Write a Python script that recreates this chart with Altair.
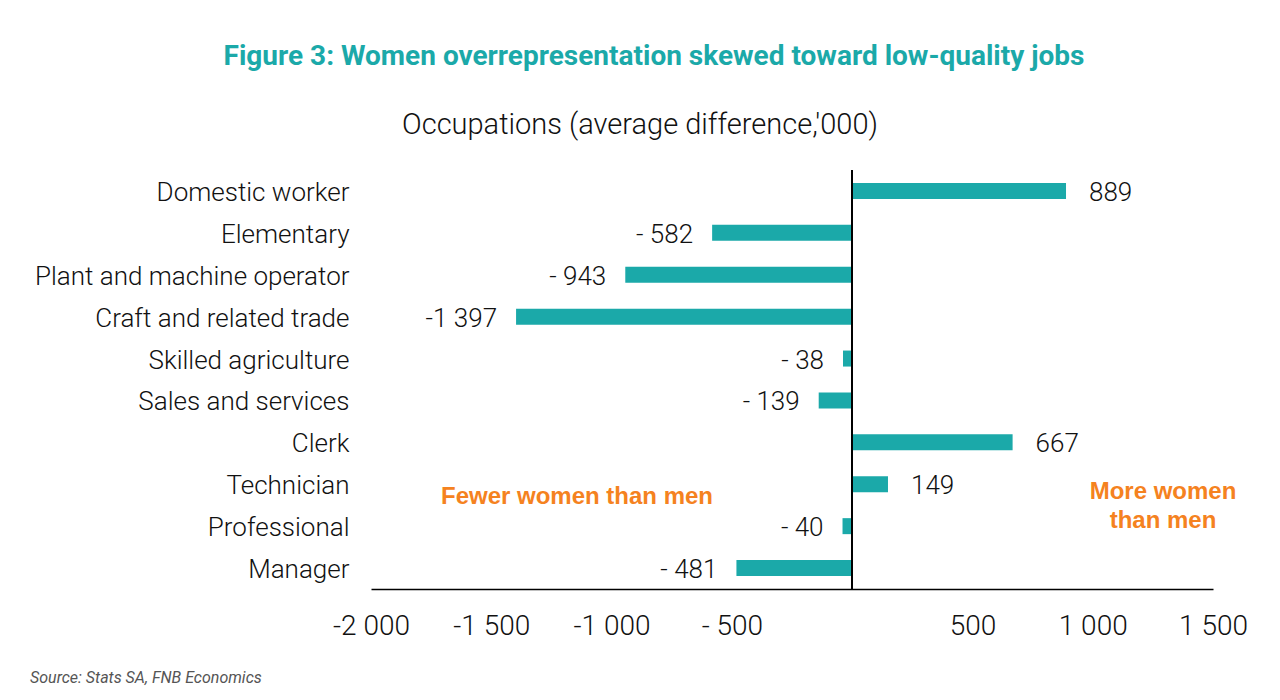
import altair as alt
import pandas as pd

categories = ["Domestic worker", "Elementary", "Plant and machine operator",
              "Craft and related trade", "Skilled agriculture", "Sales and services",
              "Clerk", "Technician", "Professional", "Manager"]
values = [889, -582, -943, -1397, -38, -139, 667, 149, -40, -481]
tick_values = [-2000, -1500, -1000, -500, 0, 500, 1000, 1500]

def fmt(v):
    a = abs(v)
    s = f"{a:,}".replace(",", " ")
    if v < 0:
        return ("-" if a >= 1000 else "- ") + s
    return s

df = pd.DataFrame({"cat": categories, "val": values, "lab": [fmt(v) for v in values]})

TEAL = "#1BA9A9"
ORANGE = "#F58220"
FONT = "Roboto"

x = alt.X("val:Q", scale=alt.Scale(domain=[-2000, 1500], nice=False),
          axis=alt.Axis(values=tick_values, title=None, grid=False, ticks=False,
                        domainColor="#000", domainWidth=1.5,
                        labelFontSize=28, labelFont=FONT, labelFontWeight=300,
                        labelColor="#111", labelPadding=23, labelFlush=False,
                        labelExpr="datum.value == 0 ? '' : (datum.value < 0 ? (abs(datum.value) >= 1000 ? '-' : '- ') : '') + replace(format(abs(datum.value), ','), ',', ' ')"))
y = alt.Y("cat:N", sort=categories,
          axis=alt.Axis(title=None, domain=False, ticks=False, labelFontSize=26,
                        labelFont=FONT, labelFontWeight=300, labelColor="#111",
                        labelPadding=22, labelLimit=600, labelOffset=2))

base = alt.Chart(df)
bars = base.mark_bar(height=16, color=TEAL).encode(x=x, y=y)
zero = base.mark_rule(color="#000", strokeWidth=1.5).encode(x=alt.datum(0))
pos = base.transform_filter("datum.val > 0").mark_text(
    align="left", dx=23, dy=2, fontSize=26, font=FONT, fontWeight=300, color="#111"
).encode(x="val:Q", y=alt.Y("cat:N", sort=categories), text="lab:N")
neg = base.transform_filter("datum.val < 0").mark_text(
    align="right", dx=-19, dy=2, fontSize=26, font=FONT, fontWeight=300, color="#111"
).encode(x="val:Q", y=alt.Y("cat:N", sort=categories), text="lab:N")

def txt(s, xv, yv, size, color, weight="normal", align="center", style="normal", font=FONT):
    return alt.Chart(pd.DataFrame({"t": [s]})).mark_text(
        align=align, baseline="middle", fontSize=size, color=color,
        fontWeight=weight, fontStyle=style, font=font
    ).encode(x=alt.value(xv), y=alt.value(yv), text="t:N")

title = txt("Figure 3: Women overrepresentation skewed toward low-quality jobs",
            283, -113, 28, TEAL, weight="bold")
subtitle = txt("Occupations (average difference,'000)", 269, -45, 29, "#111", weight=300)
fewer = txt("Fewer women than men", 206, 327, 24, ORANGE, weight="bold", font="Liberation Sans")
more1 = txt("More women", 792, 322, 24, ORANGE, weight="bold", font="Liberation Sans")
more2 = txt("than men", 792, 351, 24, ORANGE, weight="bold", font="Liberation Sans")
source = txt("Source: Stats SA, FNB Economics", -341, 508, 16, "#555",
             align="left", style="italic")

chart = alt.layer(bars, zero, pos, neg, title, subtitle, fewer, more1, more2, source).properties(
    width=842, height=419,
    autosize=alt.AutoSizeParams(type="none"),
    padding={"left": 363, "top": 162, "right": 59, "bottom": 103},
).configure_view(stroke=None)

chart.save("out.html", embed_options={"renderer": "svg", "actions": False})
